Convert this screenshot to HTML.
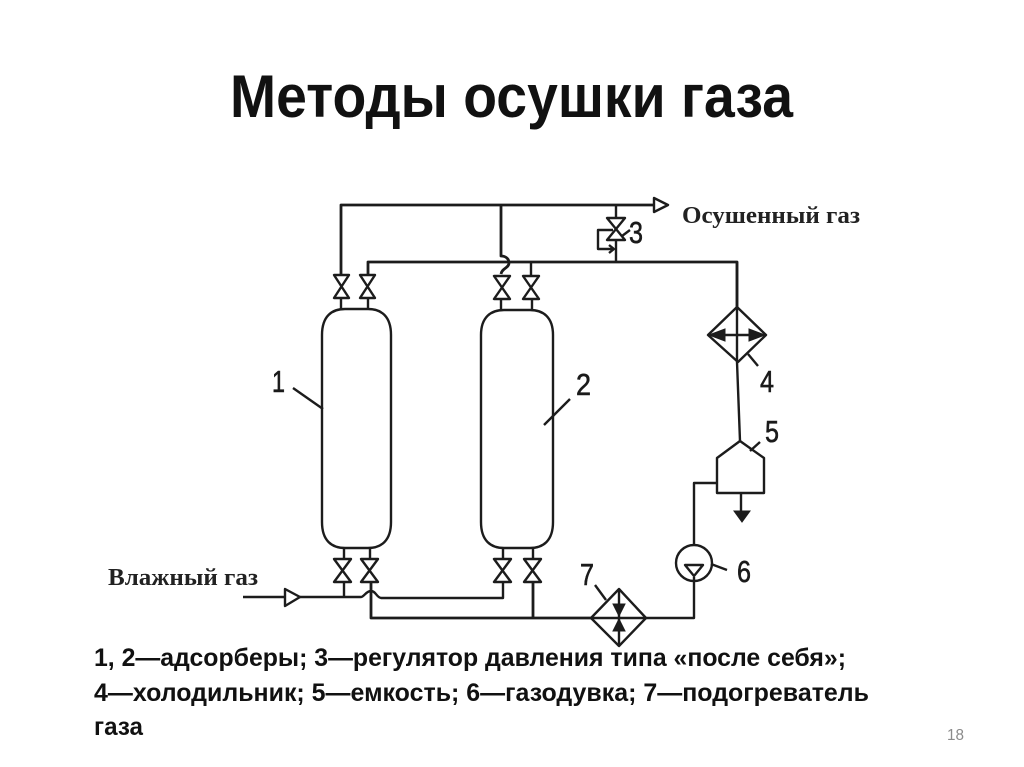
<!DOCTYPE html>
<html lang="ru">
<head>
<meta charset="utf-8">
<style>
html,body{margin:0;padding:0;background:#fff;width:1024px;height:767px;overflow:hidden}
svg{display:block}
.s{font-family:"Liberation Sans",sans-serif;font-weight:bold;fill:#111}
.f{font-family:"Liberation Serif",serif;fill:#222;font-weight:bold;font-size:24px}
.n{font-family:"Liberation Sans",sans-serif;fill:#1a1a1a;stroke:#1a1a1a;stroke-width:.6;font-size:31px}
.l{fill:none;stroke:#1c1c1c;stroke-width:2.4;stroke-linejoin:round}
.v{fill:#fff;stroke:#1c1c1c;stroke-width:2.4;stroke-linejoin:round}
.b{fill:#1c1c1c;stroke:#1c1c1c;stroke-width:1}
</style>
</head>
<body>
<svg width="1024" height="767" viewBox="0 0 1024 767" xmlns="http://www.w3.org/2000/svg">
<rect width="1024" height="767" fill="#fff"/>
<text class="s" x="230" y="117" font-size="60" textLength="563" lengthAdjust="spacingAndGlyphs">Методы осушки газа</text>

<!-- Top piping -->
<path class="l" style="stroke-width:2.8" d="M341 275V205H654"/>
<path class="v" d="M654 198L668 205L654 212Z"/>
<path class="l" style="stroke-width:2.8" d="M368 275V262H737V308"/>
<path class="l" style="stroke-width:2.8" d="M501 205V256C506 256 509 259 509 263C509 268 502 268 501 274"/>
<path class="l" d="M531 262V275M616 205V219M616 240V262"/>

<!-- Valve 3 and pressure loop -->
<path class="v" d="M607 218H625L607 240H625Z"/>
<path class="l" d="M613 230H598V249H614M609 245L614 249L609 253"/>
<path class="l" d="M622 236L630 230"/>

<!-- Top valves -->
<path class="v" d="M334 275H349L334 298H349Z"/>
<path class="v" d="M360 275H375L360 298H375Z"/>
<path class="v" d="M494 276H510L494 299H510Z"/>
<path class="v" d="M523 276H539L523 299H539Z"/>
<path class="l" d="M341 298V309M368 298V309M501 299V310M532 299V310"/>

<!-- Adsorbers -->
<path class="l" d="M322 335C322 316 332 309 345 309H368C381 309 391 316 391 335V522C391 541 381 548 368 548H345C332 548 322 541 322 522Z"/>
<path class="l" d="M481 335C481 317 491 310 504 310H530C543 310 553 317 553 335V522C553 541 543 548 530 548H504C491 548 481 541 481 522Z"/>
<path class="l" d="M293 388L323 409M544 425L570 399"/>

<!-- Bottom valves -->
<path class="l" d="M344 548V558M370 548V558M503 548V558M533 548V558"/>
<path class="v" d="M334 559H351L334 582H351Z"/>
<path class="v" d="M361 559H378L361 582H378Z"/>
<path class="v" d="M494 559H511L494 582H511Z"/>
<path class="v" d="M524 559H541L524 582H541Z"/>

<!-- Bottom piping -->
<path class="l" d="M243 597H285M300 597H361C364 597 366 591 371 591C376 591 376 597 381 598H503V583M344 582V597"/>
<path class="v" d="M285 589L300 597L285 606Z"/>
<path class="l" style="stroke-width:2.8" d="M371 583V618H591M533 583V618"/>

<!-- Heater 7 -->
<path class="l" d="M619 589L646 618L619 646L591 618Z"/>
<path class="l" d="M591 618H694V577M619 589V646"/>
<path class="b" d="M613 604H625L619 616ZM613 631H625L619 619Z"/>
<path class="l" d="M595 585L606 600"/>

<!-- Pump 6 -->
<circle class="l" cx="694" cy="563" r="18"/>
<path class="l" d="M685 565H703L694 576Z"/>
<path class="l" d="M711 564L727 570M694 545V483H717"/>

<!-- Vessel 5 -->
<path class="l" d="M717 493V458L740 441L764 458V493Z"/>
<path class="l" d="M750 451L760 442M741 493V511"/>
<path class="b" d="M734 511H750L742 522Z"/>

<!-- Cooler 4 -->
<path class="l" d="M737 262V308M737 362L740 441"/>
<path class="l" d="M737 307L766 335L738 362L708 335Z"/>
<path class="l" d="M708 335H766M737 307V362"/>
<path class="b" d="M709 335L725 329V341ZM765 335L749 329V341Z"/>
<path class="l" d="M748 354L758 366"/>

<!-- Numerals -->
<text class="n" x="272" y="392" textLength="13" lengthAdjust="spacingAndGlyphs">1</text>
<text class="n" x="576" y="395" textLength="15" lengthAdjust="spacingAndGlyphs">2</text>
<text class="n" x="629" y="243" textLength="14" lengthAdjust="spacingAndGlyphs">3</text>
<text class="n" x="760" y="392" textLength="14" lengthAdjust="spacingAndGlyphs">4</text>
<text class="n" x="765" y="442" textLength="14" lengthAdjust="spacingAndGlyphs">5</text>
<text class="n" x="737" y="582" textLength="14" lengthAdjust="spacingAndGlyphs">6</text>
<text class="n" x="580" y="585" textLength="14" lengthAdjust="spacingAndGlyphs">7</text>

<!-- Diagram labels -->
<text class="f" x="682" y="223" textLength="178" lengthAdjust="spacingAndGlyphs">Осушенный газ</text>
<text class="f" x="108" y="585" textLength="150" lengthAdjust="spacingAndGlyphs">Влажный газ</text>

<!-- Caption -->
<text class="s" x="94" y="666" font-size="25" textLength="752" lengthAdjust="spacingAndGlyphs">1, 2—адсорберы; 3—регулятор давления типа «после себя»;</text>
<text class="s" x="94" y="701" font-size="25" textLength="775" lengthAdjust="spacingAndGlyphs">4—холодильник; 5—емкость; 6—газодувка; 7—подогреватель</text>
<text class="s" x="94" y="735" font-size="25" textLength="49" lengthAdjust="spacingAndGlyphs">газа</text>
<text x="947" y="740" font-family="'Liberation Sans',sans-serif" font-size="16" fill="#8b8b8b" textLength="17" lengthAdjust="spacingAndGlyphs">18</text>
</svg>
</body>
</html>
